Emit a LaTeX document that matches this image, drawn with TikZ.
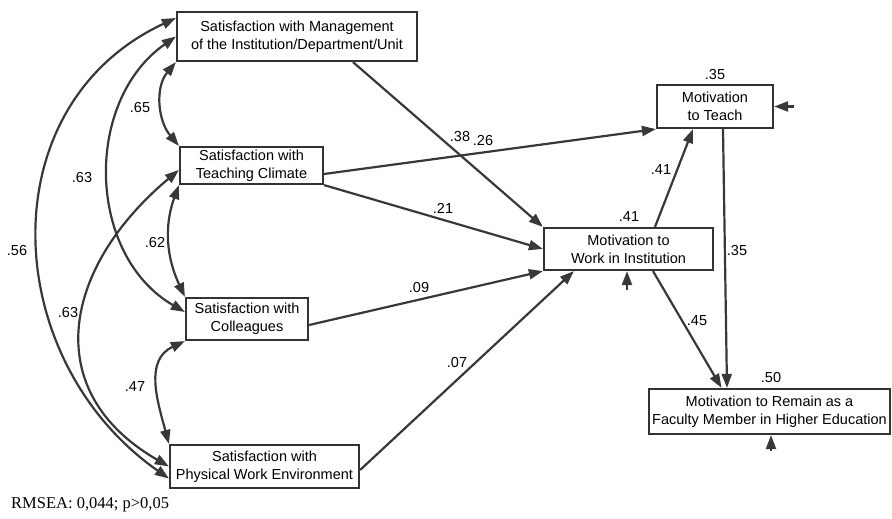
\documentclass[tikz,border=0pt]{standalone}
\usepackage{fontspec}
\setmainfont{Liberation Sans}
\newfontfamily\timesfont{Liberation Serif}
\usetikzlibrary{arrows.meta}
\tikzset{
  tip/.tip={Triangle[length=14pt,width=10pt]},
  box/.style={draw=black!80, line width=2.2pt, fill=white, align=center, inner sep=0pt,
    font=\fontsize{14.5}{18}\selectfont},
  con/.style={draw=black!78, line width=2.2pt, -tip},
  cov/.style={draw=black!78, line width=2.2pt, tip-tip},
  lab/.style={font=\fontsize{14.5}{16}\selectfont, inner sep=0pt}
}
\begin{document}
\begin{tikzpicture}[x=1pt,y=1pt]
\useasboundingbox (0,0) rectangle (892,519);
% nodes
\node[box, minimum width=240pt, minimum height=49pt] (A) at (297,482.5) {Satisfaction with Management\\of the Institution/Department/Unit};
\node[box, minimum width=143pt, minimum height=37pt] (B) at (251.5,353.5) {Satisfaction with\\Teaching Climate};
\node[box, minimum width=122pt, minimum height=42pt] (C) at (247,200) {Satisfaction with\\Colleagues};
\node[box, minimum width=189pt, minimum height=43pt] (D) at (264.5,52.5) {Satisfaction with\\Physical Work Environment};
\node[box, minimum width=116pt, minimum height=43pt] (E) at (715,412.5) {Motivation\\to Teach};
\node[box, minimum width=169pt, minimum height=42pt] (F) at (628.5,270) {Motivation to\\Work in Institution};
\node[box, minimum width=241pt, minimum height=45pt] (G) at (769.5,107.5) {Motivation to Remain as a\\Faculty Member in Higher Education};
% error terms
\coordinate (eE) at (794,412.5);
\coordinate (eF) at (627,229);
\coordinate (eG) at (771,68);
\draw[con] (eE) -- (E.east);
\draw[con] (eF) -- ([xshift=-1.5pt]F.south);
\draw[con] (eG) -- ([xshift=1.5pt]G.south);
% directed paths
\draw[con] ([xshift=56pt]A.south) -- (F.north west);
\draw[con] ([yshift=-8.5pt]B.east) -- (E.south west);
\draw[con] (B.south east) -- (F.west);
\draw[con] ([yshift=-6pt]C.east) -- (F.south west);
\draw[con] ([yshift=-3.5pt]D.east) -- ([xshift=31pt]F.south west);
\draw[con] ([xshift=26.5pt]F.north) -- ([xshift=-22pt]E.south);
\draw[con] ([xshift=8pt]E.south) -- ([xshift=-42.5pt]G.north);
\draw[con] ([xshift=24.5pt]F.south) -- ([xshift=-48pt]G.north);
% covariances
\draw[cov] (A.south west) to[out=230,in=130] (B.north west);
\draw[cov] (B.south west) to[out=250,in=115] (C.north west);
\draw[cov] (C.south west) to[out=205,in=105,looseness=1.1] (D.north west);
\draw[cov] (A.west) to[out=215,in=150,looseness=1.05] ([yshift=7pt]C.west);
\draw[cov] ([yshift=-4.5pt]B.west) to[out=220,in=150,looseness=1.3] (D.west);
\draw[cov] ([yshift=18.5pt]A.west) to[out=205,in=145,looseness=1.15] ([yshift=-12pt]D.west);
% labels
\node[lab] (l65) at (140,411) {.65};
\node[lab] (l63a) at (82,341) {.63};
\node[lab] (l56) at (17,268) {.56};
\node[lab] (l62) at (155,276) {.62};
\node[lab] (l63b) at (68,206) {.63};
\node[lab] (l47) at (135,132) {.47};
\node[lab] (l38) at (460,382) {.38};
\node[lab] (l26) at (483,378) {.26};
\node[lab] (l21) at (443,311) {.21};
\node[lab] (l09) at (419,231) {.09};
\node[lab] (l07) at (457,156) {.07};
\node[lab] (l41a) at (661,349) {.41};
\node[lab] (l41b) at (629,302) {.41};
\node[lab] (l35a) at (715,444) {.35};
\node[lab] (l35b) at (737,268) {.35};
\node[lab] (l45) at (697,198) {.45};
\node[lab] (l50) at (771,141) {.50};
\node[anchor=west, inner sep=0pt, font=\timesfont\fontsize{16.5}{18}\selectfont] (rm) at (11,14) {RMSEA: 0,044; p>0,05};
\end{tikzpicture}
\end{document}
